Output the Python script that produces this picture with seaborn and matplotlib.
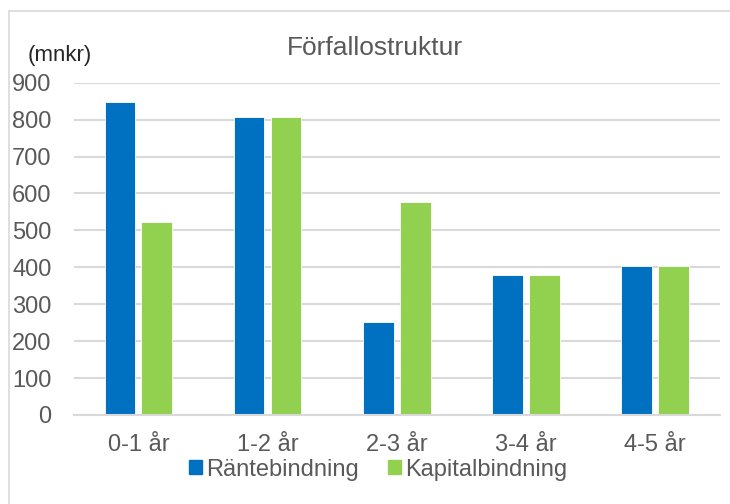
import matplotlib
matplotlib.use("Agg")
import matplotlib.pyplot as plt
from matplotlib.patches import Rectangle
from matplotlib.lines import Line2D
import seaborn as sns
import pandas as pd

categories = ["0-1 år", "1-2 år", "2-3 år", "3-4 år", "4-5 år"]
rantebindning = [848, 808, 253, 378, 403]
kapitalbindning = [522, 808, 577, 378, 403]
series_names = ["Räntebindning", "Kapitalbindning"]
y_ticks = [0, 100, 200, 300, 400, 500, 600, 700, 800, 900]

df = pd.DataFrame({
    "period": categories * 2,
    "value": rantebindning + kapitalbindning,
    "serie": [series_names[0]] * len(categories) + [series_names[1]] * len(categories),
})

sns.set_theme(style="white")
plt.rcParams["font.family"] = ["Liberation Sans", "DejaVu Sans"]
text_col = "#595959"
grid_col = "#D9D9D9"
colors = ["#0070C0", "#92D050"]

fig = plt.figure(figsize=(7.3, 5.04), dpi=100)
ax = fig.add_axes([0.101, 0.1766, 0.885, 0.6594])

sns.barplot(
    data=df, x="period", y="value", hue="serie",
    palette=colors, saturation=1,
    width=0.571, gap=0.17, dodge=True,
    edgecolor="white", linewidth=0.6,
    ax=ax, legend=False,
)

ax.set_ylim(0, 900)
ax.set_xlim(-0.5, len(categories) - 0.5)
ax.set_yticks(y_ticks)
ax.set_yticklabels([str(t) for t in y_ticks], fontsize=17, color=text_col)
ax.set_xticks(range(len(categories)))
ax.set_xticklabels(categories, fontsize=17, color=text_col)
ax.tick_params(axis="y", length=0, pad=16)
ax.tick_params(axis="x", length=0, pad=14)
ax.set_xlabel("")
ax.set_ylabel("")
ax.yaxis.grid(True, color=grid_col, linewidth=1.5)
ax.set_axisbelow(True)
for s in ["top", "right", "left"]:
    ax.spines[s].set_visible(False)
ax.spines["bottom"].set_color(grid_col)
ax.spines["bottom"].set_linewidth(1.5)

fig.text(0.514, 0.905, "Förfallostruktur", ha="center", va="center",
         fontsize=19, color=text_col)
fig.text(0.082, 0.889, "(mnkr)", ha="center", va="center",
         fontsize=16, color="#262626")

handles = [Rectangle((0, 0), 1, 1, color=c) for c in colors]
fig.legend(handles, series_names, loc="center", bbox_to_anchor=(0.518, 0.068),
           ncol=2, frameon=False, fontsize=17, handlelength=0.55, handleheight=0.55,
           handletextpad=0.15, columnspacing=1.25, labelcolor=text_col)

# chart-area border: only left and top edges are visible in the reference
bx, by = 9 / 730, 1 - 11 / 504
fig.lines.append(Line2D([bx, bx], [0, by], transform=fig.transFigure,
                        color=grid_col, linewidth=1.2))
fig.lines.append(Line2D([bx, 1], [by, by], transform=fig.transFigure,
                        color=grid_col, linewidth=1.2))

fig.savefig("out.png", dpi=100)
